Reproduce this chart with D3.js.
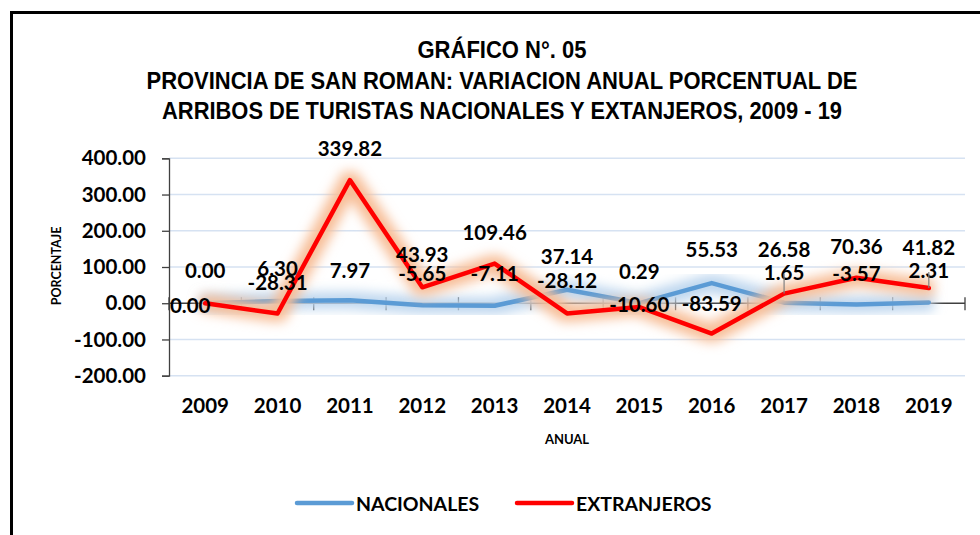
<!DOCTYPE html>
<html>
<head>
<meta charset="utf-8">
<script src="https://cdn.jsdelivr.net/npm/d3@7"></script>
<style>
    html, body { margin: 0; padding: 0; background: #fff; }
    svg { display: block; }
    .tick-label { font-family: Lato, "Open Sans", sans-serif; font-weight: bold; font-size: 20.5px; fill: #000; }
    .title { font-family: "Liberation Sans Narrow", "Liberation Sans", Arial, sans-serif; font-weight: bold; font-size: 23px; fill: #000; }
</style>
</head>
<body>
<svg id="chart" width="980" height="535"></svg>
<script>
// chart values
const years = ['2009', '2010', '2011', '2012', '2013', '2014', '2015', '2016', '2017', '2018', '2019'];
const nacionales = [0.00, 6.30, 7.97, -5.65, -7.11, 37.14, 0.29, 55.53, 1.65, -3.57, 2.31];
const extranjeros = [0.00, -28.31, 339.82, 43.93, 109.46, -28.12, -10.60, -83.59, 26.58, 70.36, 41.82];
const yTicks = [-200, -100, 0, 100, 200, 300, 400];
const seriesNames = ['NACIONALES', 'EXTRANJEROS'];
const titleLines = [
    'GRÁFICO N°. 05',
    'PROVINCIA DE SAN ROMAN: VARIACION ANUAL PORCENTUAL DE',
    'ARRIBOS DE TURISTAS NACIONALES Y EXTANJEROS, 2009 - 19'
];
// narrow title face: widths the lines take in the picture
const titleWidths = [169, 711, 680];

// hand-moved data labels (pixel nudges from the point)
const nacLabelDy = [-33, -32, -30, -32, -32, -33, -32, -33, -30, -31, -32];
const extLabelDy = [2, -31, -31, -33, -31, -33, -2, -30, -44, -31, -40];
const extLabelDx = [-15, 0, 0, 0, 0, 0, 0, 0, 0, 0, 0];
const extLeader = [false, false, false, false, false, false, false, false, true, false, true];

const fmt = v => v.toFixed(2);

/**
 *
 */
class VariationChart {

    constructor({ svgSelector, plot = { left: 169, right: 965, top: 158.3, bottom: 375.7 } }) {
        this.svg = d3.select(svgSelector);
        this.plot = plot;
        this.colors = { nac: '#5b9bd5', ext: '#ff0000' };

        this.xScale = d3.scaleBand().domain(years).range([plot.left, plot.right]);
        this.yScale = d3.scaleLinear().domain([-200, 400]).range([plot.bottom, plot.top]);
    }

    cx(i) {
        return this.xScale(years[i]) + this.xScale.bandwidth() / 2;
    }

    drawFrame() {
        this.svg.append('rect')
            .attr('width', 980).attr('height', 535).attr('fill', '#fff');
        this.svg.append('rect')
            .attr('x', 11.5).attr('y', 12.5)
            .attr('width', 1000).attr('height', 600)
            .attr('fill', 'none').attr('stroke', '#000').attr('stroke-width', 3);
    }

    drawTitle() {
        this.svg.append('g').selectAll('text')
            .data(titleLines)
            .enter().append('text')
            .attr('class', 'title')
            .attr('x', 502)
            .attr('y', (d, i) => 58 + i * 30.5)
            .attr('text-anchor', 'middle')
            .attr('textLength', (d, i) => titleWidths[i])
            .attr('lengthAdjust', 'spacingAndGlyphs')
            .text(d => d);
    }

    drawGrid() {
        this.svg.append('g')
            .selectAll('line')
            .data(yTicks.filter(t => t !== 0))
            .enter().append('line')
            .attr('x1', this.plot.left).attr('x2', this.plot.right)
            .attr('y1', d => this.yScale(d)).attr('y2', d => this.yScale(d))
            .attr('stroke', '#d6e2f2').attr('stroke-width', 1.5);
    }

    drawAxes() {
        // y axis
        const yAxis = d3.axisLeft(this.yScale)
            .tickValues(yTicks)
            .tickSize(7)
            .tickPadding(16)
            .tickFormat(fmt);

        const gy = this.svg.append('g')
            .attr('transform', 'translate(' + this.plot.left + ',0)')
            .call(yAxis);
        gy.select('.domain').attr('stroke', '#404040').attr('stroke-width', 1.3);
        gy.selectAll('.tick line').attr('stroke', '#404040').attr('stroke-width', 1.3);
        gy.selectAll('.tick text').attr('class', 'tick-label').attr('fill', null);

        // x axis line at zero with crossing ticks on category borders
        const y0 = this.yScale(0);
        const borders = years.map(y => this.xScale(y)).concat([this.plot.right]);
        const gx = this.svg.append('g');
        gx.append('line')
            .attr('x1', this.plot.left).attr('x2', this.plot.right)
            .attr('y1', y0).attr('y2', y0)
            .attr('stroke', '#404040').attr('stroke-width', 1.3);
        gx.selectAll('line.xt')
            .data(borders)
            .enter().append('line')
            .attr('class', 'xt')
            .attr('x1', d => d).attr('x2', d => d)
            .attr('y1', y0 - 6).attr('y2', y0 + 7)
            .attr('stroke', '#404040').attr('stroke-width', 1.3);

        // category labels sit low, below the plot
        this.svg.append('g').selectAll('text')
            .data(years)
            .enter().append('text')
            .attr('class', 'tick-label')
            .attr('x', (d, i) => this.cx(i))
            .attr('y', 413)
            .attr('text-anchor', 'middle')
            .text(d => d);
    }

    createLabels({ xAxisLabel, yAxisLabel }) {
        this.svg.append('text')
            .attr('x', (this.plot.left + this.plot.right) / 2)
            .attr('y', 444)
            .attr('text-anchor', 'middle')
            .style('font-family', 'Lato, sans-serif')
            .style('font-weight', 'bold')
            .style('font-size', '13px')
            .text(xAxisLabel);

        this.svg.append('text')
            .attr('transform', 'translate(61,266) rotate(-90)')
            .attr('text-anchor', 'middle')
            .style('font-family', 'Lato, sans-serif')
            .style('font-weight', 'bold')
            .style('font-size', '12.5px')
            .text(yAxisLabel);
    }

    addFilters() {
        const defs = this.svg.append('defs');
        const glow = (id, color) => {
            const f = defs.append('filter').attr('id', id)
                .attr('x', '-20%').attr('y', '-40%').attr('width', '140%').attr('height', '180%');
            f.append('feFlood').attr('flood-color', color).attr('result', 'c');
            f.append('feComposite').attr('in', 'c').attr('in2', 'SourceGraphic').attr('operator', 'in').attr('result', 's');
            f.append('feMorphology').attr('in', 's').attr('operator', 'dilate').attr('radius', 5).attr('result', 'd');
            f.append('feGaussianBlur').attr('in', 'd').attr('stdDeviation', 6).attr('result', 'b');
            const m = f.append('feMerge');
            m.append('feMergeNode').attr('in', 'b');
        };
        glow('glowNac', '#bcd5ee');
        glow('glowExt', '#f7bd96');
    }

    addLine({ pointArray, color, glowId, width }) {
        const line = d3.line()
            .x((d, i) => this.cx(i))
            .y(d => this.yScale(d));

        this.svg.append('path')
            .datum(pointArray)
            .attr('fill', 'none')
            .attr('stroke', color)
            .attr('stroke-width', width + 2)
            .attr('stroke-linejoin', 'round')
            .attr('filter', 'url(#' + glowId + ')')
            .attr('d', line);

        this.svg.append('path')
            .datum(pointArray)
            .attr('fill', 'none')
            .attr('stroke', color)
            .attr('stroke-width', width)
            .attr('stroke-linejoin', 'round')
            .attr('stroke-linecap', 'round')
            .attr('d', line);
    }

    addDataLabels({ pointArray, dy, dx, leader }) {
        const g = this.svg.append('g');
        pointArray.forEach((v, i) => {
            const ly = this.yScale(v) + dy[i];
            if (leader && leader[i]) {
                g.append('line')
                    .attr('x1', this.cx(i)).attr('x2', this.cx(i))
                    .attr('y1', ly + 24).attr('y2', this.yScale(v))
                    .attr('stroke', '#808080').attr('stroke-width', 1.2);
            }
            g.append('text')
                .attr('class', 'tick-label')
                .attr('x', this.cx(i) + (dx ? dx[i] : 0))
                .attr('y', ly)
                .attr('dy', '0.36em')
                .attr('text-anchor', 'middle')
                .text(fmt(v));
        });
    }

    addLegend() {
        const items = [
            { name: seriesNames[0], color: this.colors.nac, x: 297 },
            { name: seriesNames[1], color: this.colors.ext, x: 517 }
        ];
        const g = this.svg.append('g');
        items.forEach(it => {
            g.append('line')
                .attr('x1', it.x).attr('x2', it.x + 55)
                .attr('y1', 503).attr('y2', 503)
                .attr('stroke', it.color).attr('stroke-width', 4.5)
                .attr('stroke-linecap', 'round');
            g.append('text')
                .attr('class', 'tick-label')
                .attr('x', it.x + 59)
                .attr('y', 511)
                .style('font-size', '19.5px')
                .text(it.name);
        });
    }
}

const chart = new VariationChart({ svgSelector: '#chart' });
chart.drawFrame();
chart.addFilters();
chart.drawTitle();
chart.drawGrid();
chart.drawAxes();
chart.createLabels({ xAxisLabel: 'ANUAL', yAxisLabel: 'PORCENTAJE' });
chart.addLine({ pointArray: nacionales, color: chart.colors.nac, glowId: 'glowNac', width: 4.5 });
chart.addLine({ pointArray: extranjeros, color: chart.colors.ext, glowId: 'glowExt', width: 4.5 });
chart.addDataLabels({ pointArray: nacionales, dy: nacLabelDy });
chart.addDataLabels({ pointArray: extranjeros, dy: extLabelDy, dx: extLabelDx, leader: extLeader });
chart.addLegend();
</script>
</body>
</html>
